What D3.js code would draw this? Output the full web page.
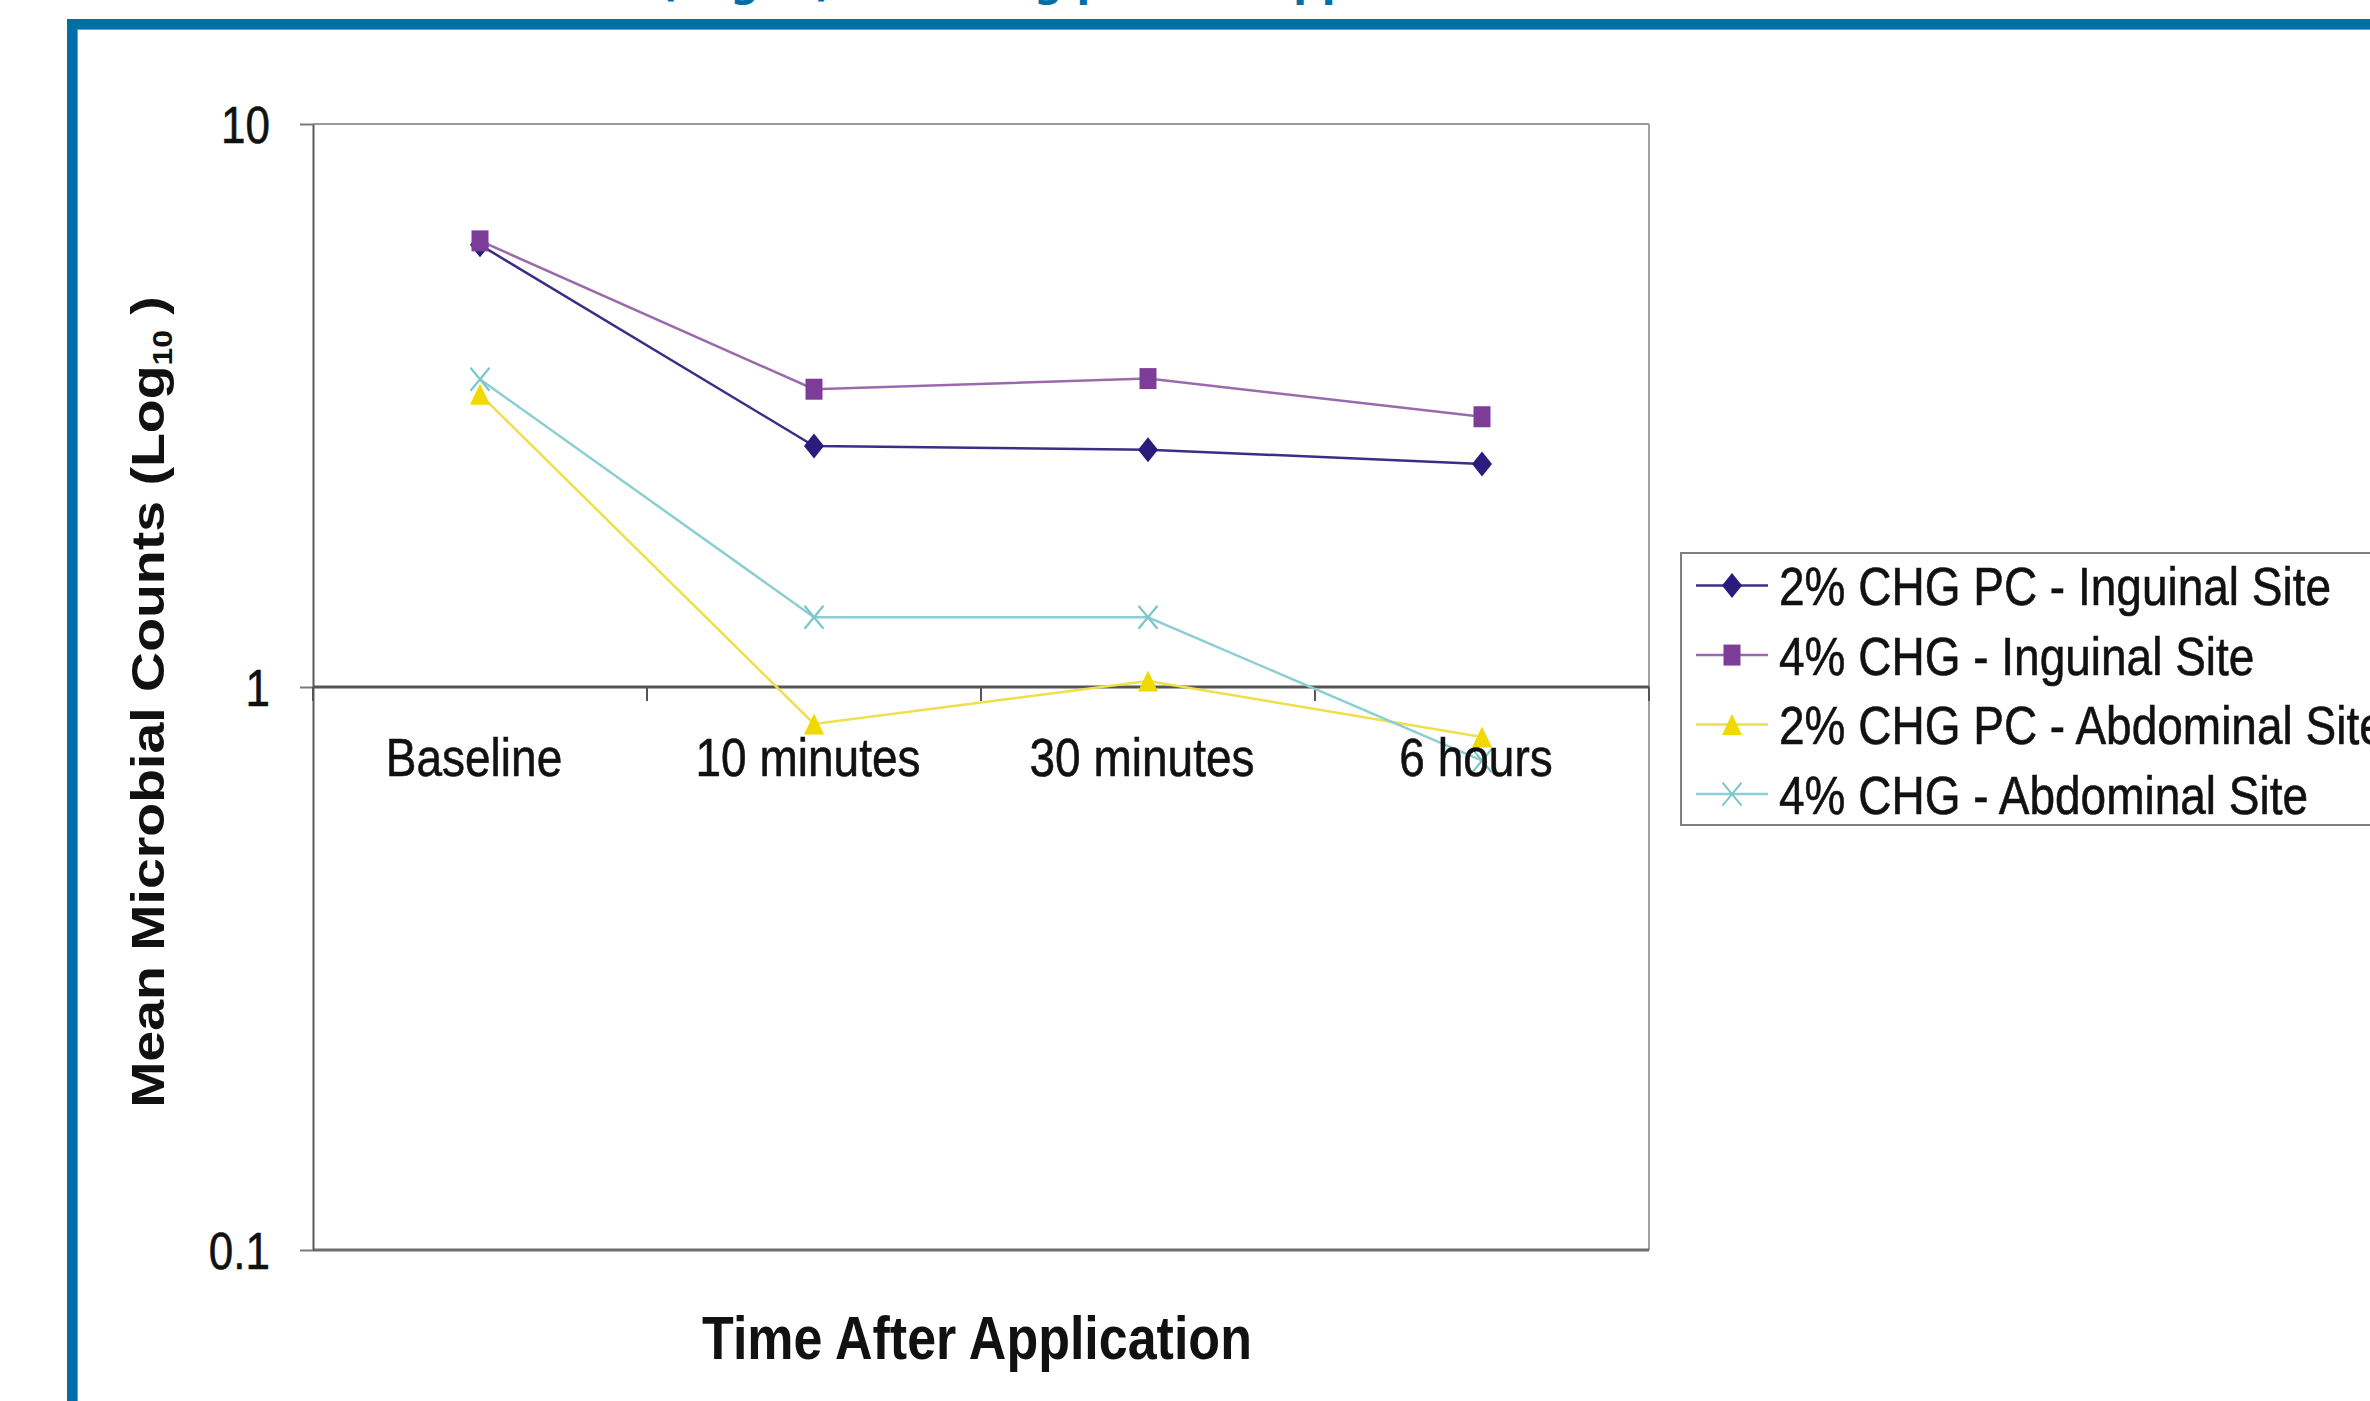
<!DOCTYPE html>
<html>
<head>
<meta charset="utf-8">
<script src="https://cdn.jsdelivr.net/npm/d3@7"></script>
<style>
  html, body { margin: 0; padding: 0; background: #ffffff; }
  svg { display: block; }
</style>
</head>
<body>
<svg id="chart" width="2370" height="1401"></svg>
<script>
// ---------------- DATA ----------------
const categories = ["Baseline", "10 minutes", "30 minutes", "6 hours"];
const seriesNames = [
  "2% CHG PC - Inguinal Site",
  "4% CHG - Inguinal Site",
  "2% CHG PC - Abdominal Site",
  "4% CHG - Abdominal Site"
];
const chgPcInguinal   = [6.1, 2.68, 2.64, 2.49];
const chgInguinal     = [6.2, 3.38, 3.53, 3.02];
const chgPcAbdominal  = [3.31, 0.86, 1.025, 0.815];
const chgAbdominal    = [3.52, 1.33, 1.33, 0.74];
const yTickValues = [0.1, 1, 10];
const yTickLabels = ["0.1", "1", "10"];
const xAxisTitle = "Time After Application";
const yAxisTitle = "Mean Microbial Counts (Log";
const yAxisTitleSub = "10";
const titleLead = "Mean Microbial Counts";
const titleTail = "(Log10) Following product application";

// ---------------- STYLE ----------------
const S = 1.18; // vertical stretch of the source picture
const FONT = "'Liberation Sans', Arial, sans-serif";
const styles = [
  {line: "#3a2f86", fill: "#2a1c7c", shape: "diamond"},
  {line: "#9a6aae", fill: "#7d3c98", shape: "square"},
  {line: "#efdf4a", fill: "#f0d800", shape: "triangle"},
  {line: "#8ccfd2", fill: "#7cc6cb", shape: "x"}
];
const allSeries = [chgPcInguinal, chgInguinal, chgPcAbdominal, chgAbdominal];

const svg = d3.select("#chart");
svg.append("rect").attr("width", 2370).attr("height", 1401).attr("fill", "#fff");

// Blue frame and cropped title
svg.append("rect").attr("x", 72).attr("y", 24).attr("width", 2400).attr("height", 1500)
  .attr("fill", "none").attr("stroke", "#006fa8").attr("stroke-width", 10);
svg.append("rect").attr("x", 77.5).attr("y", 29.5).attr("width", 2400).attr("height", 1500)
  .attr("fill", "none").attr("stroke", "#5aa6cf").attr("stroke-width", 1);
const titleG = svg.append("g").attr("transform", "translate(0,-4)");
titleG.append("text").attr("x", 645).attr("y", 0).attr("text-anchor", "end")
  .attr("font-family", "'DejaVu Sans', Verdana, sans-serif").attr("font-weight", "bold")
  .attr("font-size", 40).attr("fill", "#006fa8").text(titleLead);
titleG.append("text").attr("x", 659).attr("y", 0)
  .attr("font-family", "'DejaVu Sans', Verdana, sans-serif").attr("font-weight", "bold")
  .attr("font-size", 40).attr("fill", "#006fa8").text(titleTail);

// ---------------- SCALES ----------------
const plotL = 313, plotR = 1649, plotT = 124, plotB = 1250;
const x = d3.scaleBand().domain(categories).range([plotL, plotR]).padding(0);
const y = d3.scaleLog().domain([0.1, 10]).range([plotB, plotT]);
const xc = c => x(c) + x.bandwidth() / 2;

// Plot frame (top and right, bottom line at 0.1)
const g = svg.append("g");
g.append("line").attr("x1", plotL).attr("x2", plotR).attr("y1", y(10)).attr("y2", y(10))
  .attr("stroke", "#9a9a9a").attr("stroke-width", 2);
g.append("line").attr("x1", plotR).attr("x2", plotR).attr("y1", y(10)).attr("y2", y(0.1))
  .attr("stroke", "#a0a0a0").attr("stroke-width", 2);
g.append("line").attr("x1", plotL).attr("x2", plotR).attr("y1", y(0.1)).attr("y2", y(0.1))
  .attr("stroke", "#6e6e6e").attr("stroke-width", 3);

// Y axis
const yAxis = d3.axisLeft(y).tickValues(yTickValues)
  .tickFormat((d, i) => yTickLabels[i]).tickSize(13).tickSizeOuter(0);
const yg = g.append("g").attr("transform", `translate(${plotL},0)`).call(yAxis);
yg.select(".domain").attr("stroke", "#5a5a5a").attr("stroke-width", 2);
yg.selectAll(".tick line").attr("stroke", "#7a7a7a").attr("stroke-width", 2);
yg.selectAll(".tick text")
  .attr("x", null).attr("dy", null)
  .attr("text-anchor", "end")
  .attr("font-family", FONT).attr("font-size", 44).attr("fill", "#111")
  .attr("stroke", "#111").attr("stroke-width", 0.5)
  .attr("transform", `translate(-43, ${0.716 * 44 * S / 2}) scale(1, ${S})`);

// X axis at y = 1 with boundary ticks
const xAxis = d3.axisBottom(x).tickSize(0).tickSizeOuter(0).tickPadding(0);
const xg = g.append("g").attr("transform", `translate(0,${y(1)})`);
xg.append("line").attr("x1", plotL).attr("x2", plotR).attr("y1", 0).attr("y2", 0)
  .attr("stroke", "#555").attr("stroke-width", 3);
const bounds = categories.map(c => x(c)).concat([x(categories[categories.length - 1]) + x.bandwidth()]);
xg.selectAll("line.bt").data(bounds).join("line").attr("class", "bt")
  .attr("x1", d => d).attr("x2", d => d).attr("y1", 0).attr("y2", 14)
  .attr("stroke", "#555").attr("stroke-width", 2);

// ---------------- SERIES ----------------
function markerPath(shape) {
  const p = d3.path();
  if (shape === "diamond") {
    const w = 10, h = 12.5;
    p.moveTo(0, -h); p.lineTo(w, 0); p.lineTo(0, h); p.lineTo(-w, 0); p.closePath();
  } else if (shape === "square") {
    const w = 8.5, h = 10.5;
    p.rect(-w, -h, 2 * w, 2 * h);
  } else if (shape === "triangle") {
    const w = 10, h = 10.5;
    p.moveTo(0, -h); p.lineTo(w, h); p.lineTo(-w, h); p.closePath();
  } else {
    const w = 9.5, h = 11.5;
    p.moveTo(-w, -h); p.lineTo(w, h); p.moveTo(w, -h); p.lineTo(-w, h);
  }
  return p.toString();
}

const line = d3.line().x((d, i) => xc(categories[i])).y(d => y(d));
const sg = g.append("g");
allSeries.forEach((vals, si) => {
  const st = styles[si];
  sg.append("path").datum(vals).attr("d", line)
    .attr("fill", "none").attr("stroke", st.line).attr("stroke-width", 2.5);
  sg.selectAll(null).data(vals).join("path")
    .attr("transform", (d, i) => `translate(${xc(categories[i])},${y(d)})`)
    .attr("d", markerPath(st.shape))
    .attr("fill", st.shape === "x" ? "none" : st.fill)
    .attr("stroke", st.shape === "x" ? st.fill : "none")
    .attr("stroke-width", 2.2);
});

// X labels (drawn over the series)
const xl = g.append("g").attr("transform", `translate(0,${y(1)})`).call(xAxis);
xl.select(".domain").remove();
xl.selectAll(".tick text")
  .attr("y", null).attr("dy", null)
  .attr("font-family", FONT).attr("font-size", 46).attr("fill", "#111")
  .attr("stroke", "#111").attr("stroke-width", 0.5)
  .attr("text-anchor", "middle")
  .attr("transform", `translate(-6, 89) scale(1, ${S})`);

// Axis titles
svg.append("text")
  .attr("transform", `translate(${(plotL + plotR) / 2 - 4}, 1359) scale(1, ${S})`)
  .attr("text-anchor", "middle")
  .attr("font-family", FONT).attr("font-weight", "bold").attr("font-size", 52).attr("fill", "#111")
  .text(xAxisTitle);

const yt = svg.append("text")
  .attr("transform", `translate(164, 702) scale(1, ${S}) rotate(-90)`)
  .attr("text-anchor", "middle")
  .attr("font-family", FONT).attr("font-weight", "bold").attr("font-size", 47).attr("fill", "#111");
yt.append("tspan").text(yAxisTitle);
yt.append("tspan").attr("font-size", 27).attr("dy", 8).text(yAxisTitleSub);
yt.append("tspan").attr("dy", -8).text(" )");

// ---------------- LEGEND ----------------
const lg = svg.append("g");
lg.append("rect").attr("x", 1681).attr("y", 553).attr("width", 800).attr("height", 272)
  .attr("fill", "#fff").attr("stroke", "#7f7f7f").attr("stroke-width", 2);
const rowBase = d3.scalePoint().domain(seriesNames).range([605, 813.5]);
seriesNames.forEach((name, i) => {
  const st = styles[i];
  const base = rowBase(name);
  const cy = base - 0.716 * 46 * S / 2;
  lg.append("line").attr("x1", 1696).attr("x2", 1768).attr("y1", cy).attr("y2", cy)
    .attr("stroke", st.line).attr("stroke-width", 2.5);
  lg.append("path").attr("transform", `translate(1732,${cy})`).attr("d", markerPath(st.shape))
    .attr("fill", st.shape === "x" ? "none" : st.fill)
    .attr("stroke", st.shape === "x" ? st.fill : "none").attr("stroke-width", 2);
  lg.append("text").attr("transform", `translate(1779,${base}) scale(1, ${S})`)
    .attr("font-family", FONT).attr("font-size", 46).attr("fill", "#111")
    .attr("stroke", "#111").attr("stroke-width", 0.5).text(name);
});
</script>
</body>
</html>
